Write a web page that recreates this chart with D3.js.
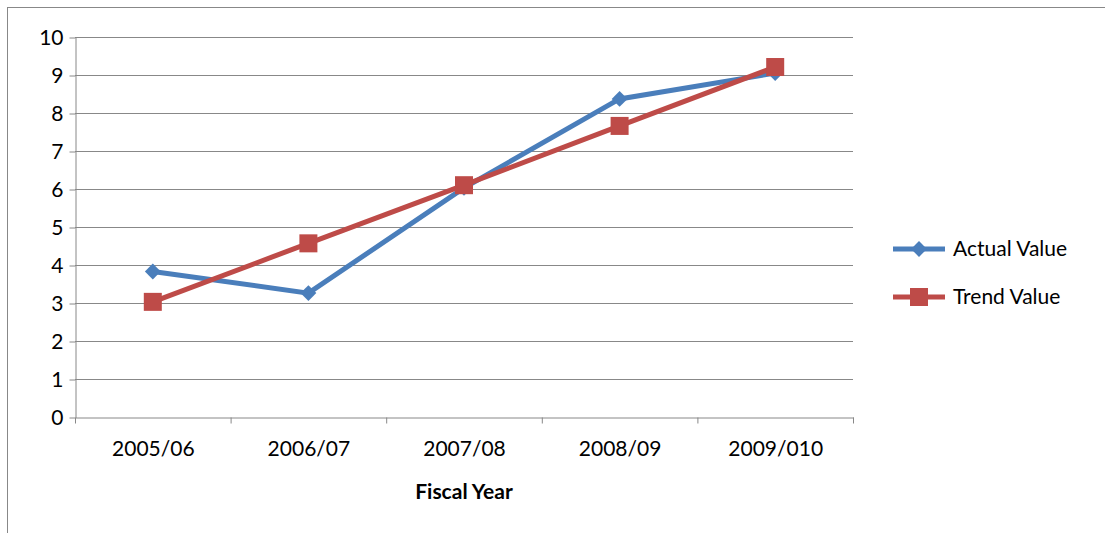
<!DOCTYPE html>
<html lang="en">
<head>
  <meta charset="UTF-8">
  <script src="https://d3js.org/d3.v7.min.js"></script>
  <style>
    body { margin: 0; background: #fff; font-family: Lato, "Open Sans", sans-serif; }
  </style>
</head>
<body>
  <svg width="1105" height="533"></svg>
  <script>
    const years = ["2005/06", "2006/07", "2007/08", "2008/09", "2009/010"];
    const actual = [3.83, 3.26, 6.03, 8.37, 9.05];
    const trend = [3.03, 4.57, 6.1, 7.66, 9.21];
    const yTicks = [0, 1, 2, 3, 4, 5, 6, 7, 8, 9, 10];

    const svg = d3.select("svg");
    svg.append("rect").attr("x", 7.5).attr("y", 7.5).attr("width", 1110).attr("height", 540)
      .attr("fill", "none").attr("stroke", "#888");

    const x = d3.scaleBand().domain(years).range([75, 853]);
    const y = d3.scaleLinear().domain([0, 10]).range([417, 37]);
    const cx = d => x(d) + x.bandwidth() / 2;

    // gridlines
    svg.append("g").selectAll("line").data(yTicks.slice(1)).enter().append("line")
      .attr("x1", 75).attr("x2", 853).attr("y1", d => y(d) + 0.5).attr("y2", d => y(d) + 0.5)
      .attr("stroke", "#888").attr("stroke-width", 1);

    const yAxis = svg.append("g").attr("transform", "translate(75.5,0.5)")
      .call(d3.axisLeft(y).tickValues(yTicks).tickSize(6).tickSizeOuter(0));
    const xAxis = svg.append("g").attr("transform", `translate(0.5,${y(0) + 0.5})`)
      .call(d3.axisBottom(x).tickSize(0).tickPadding(24));
    xAxis.selectAll(".tick line").remove();
    xAxis.selectAll("line.sep").data(years.concat([null])).enter().append("line")
      .attr("x1", (d, i) => 75 + i * x.bandwidth()).attr("x2", (d, i) => 75 + i * x.bandwidth())
      .attr("y1", 0).attr("y2", 6).attr("stroke", "#888");
    [yAxis, xAxis].forEach(a => {
      a.selectAll(".domain, .tick line").attr("stroke", "#888");
      a.selectAll("text").attr("font-family", "Lato, sans-serif").attr("font-size", 21).attr("fill", "#000");
    });
    yAxis.selectAll("text").attr("x", -12);

    svg.append("text").attr("x", 464).attr("y", 499).attr("text-anchor", "middle")
      .attr("font-size", 21).attr("font-weight", "bold").text("Fiscal Year");

    const line = d3.line().x((d, i) => cx(years[i])).y(d => y(d));
    svg.append("path").datum(actual).attr("d", line).attr("fill", "none")
      .attr("stroke", "#4a7ebb").attr("stroke-width", 5);
    svg.append("path").datum(trend).attr("d", line).attr("fill", "none")
      .attr("stroke", "#be4b48").attr("stroke-width", 5);

    svg.append("g").selectAll("path").data(actual).enter().append("path")
      .attr("d", d3.symbol(d3.symbolDiamond2, 160)())
      .attr("transform", (d, i) => `translate(${cx(years[i])},${y(d)})`)
      .attr("fill", "#4a7ebb");
    svg.append("g").selectAll("rect").data(trend).enter().append("rect")
      .attr("x", (d, i) => cx(years[i]) - 9).attr("y", d => y(d) - 9)
      .attr("width", 18).attr("height", 18).attr("fill", "#be4b48");

    // legend
    const leg = [
      { name: "Actual Value", color: "#4a7ebb", sym: "d", y: 249 },
      { name: "Trend Value", color: "#be4b48", sym: "s", y: 297 }
    ];
    leg.forEach(l => {
      svg.append("line").attr("x1", 893).attr("x2", 945).attr("y1", l.y).attr("y2", l.y)
        .attr("stroke", l.color).attr("stroke-width", 5);
      if (l.sym === "d") {
        svg.append("path").attr("d", d3.symbol(d3.symbolDiamond2, 160)())
          .attr("transform", `translate(919,${l.y})`).attr("fill", l.color);
      } else {
        svg.append("rect").attr("x", 910).attr("y", l.y - 9).attr("width", 18).attr("height", 18).attr("fill", l.color);
      }
      svg.append("text").attr("x", 953).attr("y", l.y + 7).attr("font-size", 21).text(l.name);
    });
  </script>
</body>
</html>
